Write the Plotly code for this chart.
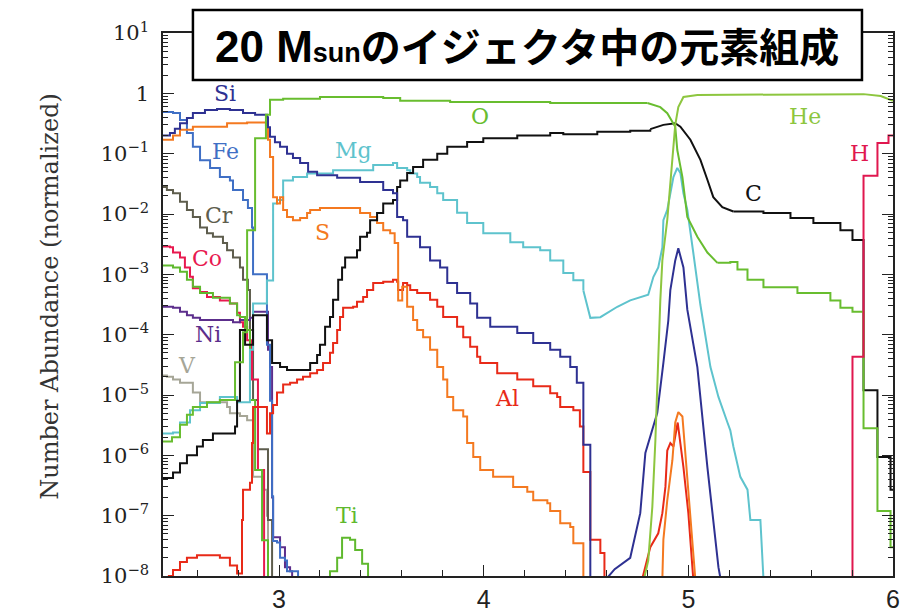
import plotly.graph_objects as go

# ---------------------------------------------------------------
# Ejecta composition of a 20 Msun model: normalized number
# abundance of each element versus mass coordinate.
# ---------------------------------------------------------------

# Hydrogen
h_x = [5.700, 5.802, 5.856, 5.924, 5.978, 6.0]
h_y = [1e-9, 4.3e-5, 0.043, 0.15, 0.20, 0.20]

# Helium
he_x = [4.780, 4.804, 4.824, 4.839, 4.863, 4.873, 4.897, 4.922, 4.936, 4.951, 4.976, 5.044, 5.856, 5.940, 5.988, 6.0]
he_y = [8e-9, 1.8e-8, 1.4e-7, 1.8e-6, 3.7e-4, 1.7e-3, 8e-3, 0.078, 0.30, 0.59, 0.87, 0.94, 0.97, 0.90, 0.77, 0.75]

# Carbon (inner zones / C-O transition / outer zones)
c_x = [2.433, 2.482, 2.516, 2.550, 2.599, 2.628, 2.677, 2.785, 2.795, 2.809, 2.834, 2.873, 2.941, 2.966,
       3.005, 3.039, 3.152, 3.186, 3.200, 3.225, 3.249, 3.264, 3.289, 3.308, 3.323, 3.381, 3.396, 3.430,
       3.445, 3.479, 3.509, 3.557, 3.577, 3.592, 3.626, 3.655, 3.704, 3.773, 3.822, 3.919, 3.998, 4.164,
       4.325, 4.389, 4.555, 4.716, 4.814]
c_y = [4.2e-7, 5.2e-7, 7.4e-7, 1.0e-6, 1.4e-6, 1.8e-6, 2.3e-6, 3.0e-6, 8e-6, 1.2e-4, 6.8e-5, 2.1e-4, 8.1e-5, 3.4e-5,
       2.9e-5, 2.6e-5, 3.4e-5, 4.6e-5, 6.8e-5, 1.35e-4, 1.96e-4, 3.8e-4, 8.1e-4, 1.3e-3, 1.9e-3, 2.5e-3, 4.2e-3, 4.9e-3,
       7.9e-3, 0.0104, 0.015, 0.017, 0.028, 0.036, 0.048, 0.060, 0.079, 0.10, 0.13, 0.156, 0.18, 0.20,
       0.22, 0.21, 0.23, 0.24, 0.255]
c_mid_x = [4.814, 4.878, 4.936, 4.961, 5.010, 5.059, 5.093, 5.122, 5.166, 5.220]
c_mid_y = [0.255, 0.30, 0.32, 0.28, 0.17, 0.079, 0.037, 0.019, 0.013, 0.011]
c_out_x = [5.220, 5.367, 5.499, 5.611, 5.743, 5.802, 5.856, 5.924, 5.988, 6.0]
c_out_y = [0.011, 0.0104, 8.6e-3, 7.1e-3, 5.4e-3, 3.7e-3, 1.2e-5, 9.4e-7, 2.7e-7, 2.7e-7]

# Oxygen
o_x = [2.433, 2.477, 2.516, 2.550, 2.579, 2.648, 2.711, 2.785, 2.824, 2.844, 2.883, 2.936, 2.956,
       3.020, 3.200, 3.509, 3.592, 3.836, 4.325, 4.800]
o_y = [1.7e-6, 2.0e-6, 3.2e-6, 4.7e-6, 6.3e-6, 7.6e-6, 8.3e-6, 3.5e-5, 1.1e-4, 5.4e-3, 0.18, 0.44, 0.78,
       0.81, 0.87, 0.84, 0.75, 0.72, 0.69, 0.69]
o_mid_x = [4.800, 4.863, 4.897, 4.922, 4.936, 4.946, 4.971, 4.995, 5.044, 5.093, 5.142]
o_mid_y = [0.69, 0.59, 0.47, 0.33, 0.28, 0.115, 0.041, 8.9e-3, 4.2e-3, 2.3e-3, 1.55e-3]
o_out_x = [5.142, 5.205, 5.240, 5.289, 5.367, 5.533, 5.694, 5.743, 5.802, 5.856, 5.924, 5.988, 6.0]
o_out_y = [1.55e-3, 1.6e-3, 1.2e-3, 8.1e-4, 6.1e-4, 4.9e-4, 3.7e-4, 2.8e-4, 2.4e-4, 2.8e-6, 1.2e-7, 3.0e-8, 3.0e-8]

# Magnesium
mg_x = [2.433, 2.482, 2.516, 2.565, 2.614, 2.711, 2.795, 2.858, 2.873, 2.941, 2.971, 2.990, 3.020, 3.068,
        3.137, 3.264, 3.347, 3.460, 3.557, 3.577, 3.626, 3.641, 3.675, 3.689, 3.738, 3.773, 3.802, 3.870,
        3.919, 3.998, 4.130, 4.193, 4.276, 4.325, 4.389, 4.438, 4.487]
mg_y = [2.3e-6, 2.4e-6, 3.5e-6, 5.6e-6, 7.4e-6, 9.3e-6, 7.6e-6, 5.6e-5, 3.3e-4, 7.9e-4, 0.015, 0.017, 0.036, 0.041,
        0.047, 0.053, 0.053, 0.065, 0.070, 0.058, 0.053, 0.047, 0.041, 0.033, 0.028, 0.022, 0.017, 0.0105,
        7.1e-3, 4.8e-3, 3.4e-3, 2.8e-3, 2.5e-3, 1.7e-3, 1.05e-3, 8.0e-4, 5.4e-4]
mg_out_x = [4.487, 4.521, 4.570, 4.653, 4.716, 4.765, 4.804, 4.829, 4.853, 4.873, 4.878, 4.897, 4.912, 4.927,
            4.946, 4.961, 4.976, 4.995, 5.024, 5.059, 5.108, 5.147, 5.191, 5.205, 5.220, 5.254, 5.289, 5.303,
            5.352, 5.367]
mg_out_y = [5.4e-4, 1.9e-4, 1.95e-4, 2.9e-4, 3.7e-4, 4.2e-4, 4.6e-4, 9e-4, 1.3e-3, 2.8e-3, 7.9e-3, 0.0117, 0.022, 0.041,
            0.058, 0.048, 0.022, 0.0117, 2.3e-3, 3.1e-4, 2.9e-5, 9.3e-6, 3.5e-6, 2.6e-6, 1.4e-6, 4.4e-7, 2.7e-7, 8.5e-8,
            8.5e-8, 9e-9]

# Aluminium
al_x = [2.457, 2.482, 2.516, 2.550, 2.599, 2.677, 2.711, 2.760, 2.795, 2.819, 2.824, 2.858, 2.868, 2.873,
        2.932, 2.941, 2.956, 2.971, 2.990, 3.020, 3.054, 3.088, 3.117, 3.152, 3.186, 3.215, 3.249, 3.264,
        3.284, 3.298, 3.313, 3.362, 3.381, 3.411, 3.430, 3.460, 3.509, 3.557, 3.577, 3.582, 3.606, 3.626,
        3.641, 3.675, 3.738, 3.773, 3.802, 3.870, 3.900, 3.934, 3.968, 3.983, 4.066, 4.164, 4.242, 4.325,
        4.359, 4.374, 4.438, 4.470, 4.487, 4.521, 4.570, 4.590]
al_y = [1.0e-8, 1.26e-8, 1.7e-8, 2.0e-8, 2.2e-8, 2.2e-8, 2.0e-8, 1.5e-8, 1.1e-8, 8.5e-8, 2.7e-7, 3.5e-7, 1.6e-6, 6.3e-6,
        6.3e-6, 2.3e-6, 5.0e-6, 6.8e-6, 1.1e-5, 1.5e-5, 1.6e-5, 1.8e-5, 2.0e-5, 2.3e-5, 2.6e-5, 3.4e-5, 5.0e-5, 7.3e-5,
        1.2e-4, 1.96e-4, 2.8e-4, 2.9e-4, 3.5e-4, 4.2e-4, 5.5e-4, 7.2e-4, 7.5e-4, 8.1e-4, 7.5e-4, 5.5e-4, 7.2e-4, 6.6e-4,
        5.5e-4, 4.9e-4, 3.8e-4, 2.9e-4, 1.96e-4, 1.35e-4, 9.1e-5, 6.3e-5, 4.3e-5, 3.4e-5, 2.3e-5, 1.8e-5, 1.4e-5, 1.07e-5,
        9.3e-6, 6.3e-6, 5.6e-6, 3.0e-6, 5.3e-7, 4.0e-8, 2.4e-8, 1e-9]
al_pk_x = [4.775, 4.814, 4.853, 4.873, 4.888, 4.897, 4.912, 4.927, 4.948, 4.976, 5.000, 5.024]
al_pk_y = [9e-9, 3.0e-8, 5.1e-8, 1.1e-7, 3.0e-7, 1.2e-6, 1.6e-6, 1.4e-6, 3.5e-6, 6.4e-7, 1.1e-7, 9e-9]

# Silicon
si_x = [2.433, 2.467, 2.491, 2.516, 2.550, 2.579, 2.638, 2.697, 2.760, 2.824, 2.883, 2.941, 2.946, 2.956,
        2.980, 3.005, 3.039, 3.068, 3.103, 3.142, 3.186, 3.284, 3.396, 3.509, 3.557, 3.577, 3.606, 3.626,
        3.689, 3.738, 3.787, 3.822, 3.870, 3.934, 3.968, 4.032, 4.164, 4.242, 4.325, 4.374, 4.423, 4.455,
        4.487, 4.521]
si_y = [0.20, 0.22, 0.26, 0.32, 0.39, 0.47, 0.53, 0.55, 0.53, 0.47, 0.44, 0.40, 0.275, 0.19,
        0.155, 0.13, 0.10, 0.085, 0.07, 0.05, 0.044, 0.04, 0.034, 0.025, 0.022, 8.9e-3, 7.9e-3, 4.2e-3,
        2.8e-3, 1.7e-3, 1.3e-3, 7.2e-4, 4.9e-4, 3.3e-4, 1.9e-4, 1.35e-4, 1.07e-4, 7.3e-5, 5.6e-5, 4.3e-5, 2.9e-5, 1.6e-5,
        1.5e-6, 1e-9]
si_pk_x = [4.600, 4.640, 4.716, 4.765, 4.790, 4.820, 4.848, 4.878, 4.902, 4.912, 4.936, 4.951, 4.976, 4.995,
           5.044, 5.093, 5.147, 5.160]
si_pk_y = [9e-9, 1.3e-8, 2.0e-8, 1.1e-7, 1.1e-6, 2.5e-6, 5.0e-6, 3.4e-5, 1.7e-4, 5.5e-4, 1.7e-3, 2.7e-3, 1.3e-3, 2.6e-4,
           2.9e-5, 6.4e-7, 1.4e-8, 8e-9]

# Sulphur
s_x = [2.433, 2.482, 2.516, 2.579, 2.746, 2.844, 2.936, 2.946, 2.956, 2.971, 2.990, 3.005, 3.020, 3.039,
       3.068, 3.103, 3.137, 3.152, 3.200, 3.333, 3.396, 3.445, 3.479, 3.509, 3.543, 3.565, 3.582, 3.602,
       3.626, 3.655, 3.675, 3.704, 3.738, 3.773, 3.802, 3.822, 3.851, 3.900, 3.919, 3.949, 3.983, 4.046,
       4.144, 4.213, 4.242, 4.311, 4.325, 4.374, 4.423, 4.438, 4.487]
s_y = [0.17, 0.20, 0.25, 0.28, 0.32, 0.33, 0.30, 0.17, 0.088, 0.019, 0.015, 0.019, 0.0117, 8.9e-3,
       7.9e-3, 8.6e-3, 0.0104, 0.0117, 0.0126, 0.0126, 0.0104, 8.9e-3, 7.1e-3, 5.4e-3, 4.8e-3, 3.3e-3, 3.7e-4, 6.2e-4,
       2.9e-4, 1.75e-4, 1.2e-4, 9.1e-5, 5.6e-5, 2.9e-5, 1.8e-5, 9.3e-6, 5.6e-6, 4.4e-6, 1.6e-6, 9.4e-7, 5.7e-7, 4.4e-7,
       3.0e-7, 2.5e-7, 1.8e-7, 1.6e-7, 1.2e-7, 7.5e-8, 6.5e-8, 3.5e-8, 1e-9]
s_pk_x = [4.873, 4.878, 4.897, 4.922, 4.936, 4.951, 4.971, 4.985, 5.010, 5.034]
s_pk_y = [9e-9, 4e-8, 1.8e-7, 8.3e-7, 3.5e-6, 5.2e-6, 4.4e-6, 1.2e-6, 1.1e-7, 9e-9]

# Titanium
ti_x = [2.433, 2.482, 2.516, 2.550, 2.579, 2.614, 2.677, 2.760, 2.795, 2.809, 2.834, 2.858, 2.883, 2.917,
        2.946, 3.249, 3.284, 3.308, 3.347, 3.372, 3.406, 3.435]
ti_y = [1.4e-3, 1.3e-3, 1.1e-3, 8.1e-4, 6.2e-4, 4.9e-4, 4.1e-4, 3.3e-4, 2.1e-4, 1.96e-4, 1.2e-4, 8.3e-6, 5.7e-7, 3.9e-8,
        1e-9, 1.2e-8, 2.0e-8, 4.3e-8, 4.0e-8, 2.7e-8, 1.6e-8, 1e-9]

# Vanadium
v_x = [2.433, 2.452, 2.482, 2.516, 2.579, 2.614, 2.746, 2.760, 2.809, 2.844, 2.873, 2.922, 2.941, 2.946]
v_y = [2.1e-5, 2.0e-5, 1.8e-5, 1.6e-5, 1.1e-5, 7.6e-6, 6.3e-6, 5.0e-6, 4.5e-6, 3.8e-6, 4.4e-7, 2.7e-7, 1.0e-7, 1e-9]

# Chromium
cr_x = [2.433, 2.452, 2.482, 2.516, 2.550, 2.579, 2.614, 2.648, 2.677, 2.726, 2.746, 2.775, 2.809, 2.824,
        2.848, 2.858, 2.873, 2.897, 2.946, 2.966]
cr_y = [0.028, 0.025, 0.022, 0.016, 0.0117, 8.9e-3, 6.0e-3, 4.8e-3, 4.2e-3, 3.3e-3, 2.5e-3, 1.9e-3, 1.3e-3, 8.1e-4,
        5.5e-4, 1.2e-4, 8.3e-6, 1.26e-6, 8.5e-8, 1e-9]

# Iron
fe_x = [2.433, 2.482, 2.516, 2.550, 2.579, 2.614, 2.663, 2.711, 2.760, 2.775, 2.824, 2.848, 2.868, 2.873,
        2.941, 2.956, 2.966, 2.971, 2.990, 3.005, 3.029, 3.039, 3.093]
fe_y = [0.49, 0.47, 0.36, 0.22, 0.13, 0.078, 0.058, 0.041, 0.036, 0.025, 0.017, 0.0126, 6.0e-3, 1.0e-3,
        6.8e-5, 8.0e-6, 2.1e-7, 3.8e-8, 3.6e-8, 2.0e-8, 1.8e-8, 1.2e-8, 1e-9]

# Cobalt
co_x = [2.433, 2.467, 2.482, 2.516, 2.540, 2.565, 2.579, 2.614, 2.648, 2.711, 2.760, 2.795, 2.809, 2.824,
        2.844, 2.868, 2.897, 2.927]
co_y = [2.9e-3, 2.8e-3, 2.3e-3, 1.9e-3, 1.3e-3, 9.1e-4, 5.9e-4, 5.1e-4, 4.2e-4, 3.7e-4, 3.3e-4, 2.3e-4, 1.6e-4, 1.35e-4,
        8.1e-5, 1.8e-5, 5.7e-7, 1e-9]

# Nickel
ni_x = [2.433, 2.482, 2.516, 2.550, 2.579, 2.614, 2.775, 2.809, 2.858, 2.873, 2.941, 2.946, 2.956, 2.966,
        2.971, 2.995, 3.005, 3.020, 3.029, 3.054, 3.064]
ni_y = [2.9e-4, 2.8e-4, 2.4e-4, 2.1e-4, 1.9e-4, 1.75e-4, 1.6e-4, 1.75e-4, 1.9e-4, 2.4e-4, 2.4e-4, 5.6e-5, 2.9e-5, 2.0e-7,
        4.4e-8, 4.4e-8, 3.0e-8, 3.0e-8, 1.4e-8, 1.2e-8, 1e-9]

# Axis ticks
x_tick_vals = [3, 4, 5, 6]
y_tick_vals = [1e-8, 1e-7, 1e-6, 1e-5, 1e-4, 1e-3, 1e-2, 1e-1, 1, 10]
y_tick_text = ["10<sup>\u22128</sup>", "10<sup>\u22127</sup>", "10<sup>\u22126</sup>", "10<sup>\u22125</sup>",
               "10<sup>\u22124</sup>", "10<sup>\u22123</sup>", "10<sup>\u22122</sup>", "10<sup>\u22121</sup>",
               "1", "10<sup>1</sup>"]

# Element labels: (name, mass coordinate, log10 abundance, colour)
labels = [
    ("Si", 2.736, 0.0, "#2e3192"),
    ("Fe", 2.736, -0.97, "#3f6fc5"),
    ("Cr", 2.707, -2.02, "#5e5d4d"),
    ("Co", 2.648, -2.73, "#e8194f"),
    ("Ni", 2.653, -4.0, "#5c2e8c"),
    ("V", 2.550, -4.51, "#a6a697"),
    ("Mg", 3.362, -0.94, "#5ec3cd"),
    ("S", 3.210, -2.30, "#f47920"),
    ("O", 3.983, -0.38, "#68bd2f"),
    ("Ti", 3.333, -7.0, "#5fb92e"),
    ("Al", 4.115, -5.05, "#e82a18"),
    ("C", 5.318, -1.66, "#111111"),
    ("He", 5.572, -0.39, "#8dc63f"),
    ("H", 5.836, -0.99, "#e0174f"),
]
col = {name: c for name, _, _, c in labels}

fig = go.Figure()


def profile(x, y, color, shape="hv"):
    fig.add_trace(go.Scatter(x=x, y=y, mode="lines", showlegend=False, hoverinfo="skip",
                             line=dict(color=color, width=2, shape=shape)))


profile(v_x, v_y, col["V"])
profile(cr_x, cr_y, col["Cr"])
profile(co_x, co_y, col["Co"])
profile(ni_x, ni_y, col["Ni"])
profile(ti_x, ti_y, col["Ti"])
profile(fe_x, fe_y, col["Fe"])
profile(mg_x, mg_y, col["Mg"])
profile(mg_out_x, mg_out_y, col["Mg"], "linear")
profile(al_x, al_y, col["Al"])
profile(al_pk_x, al_pk_y, col["Al"], "linear")
profile(s_x, s_y, col["S"])
profile(s_pk_x, s_pk_y, col["S"], "linear")
profile(c_x, c_y, col["C"])
profile(c_mid_x, c_mid_y, col["C"], "linear")
profile(c_out_x, c_out_y, col["C"])
profile(si_x, si_y, col["Si"])
profile(si_pk_x, si_pk_y, col["Si"], "linear")
profile(o_x, o_y, col["O"])
profile(o_mid_x, o_mid_y, col["O"], "linear")
profile(o_out_x, o_out_y, col["O"])
profile(he_x, he_y, col["He"], "linear")
profile(h_x, h_y, col["H"])

for name, lx, ly, c in labels:
    fig.add_annotation(x=lx, y=ly, xref="x", yref="y", text=name, showarrow=False,
                       font=dict(family="DejaVu Serif", size=22, color=c))

axis_common = dict(showline=True, linecolor="#222222", linewidth=1.5, mirror="ticks", automargin=False,
                   ticks="inside", tickcolor="#222222", tickwidth=1.2, showgrid=False, zeroline=False)

fig.update_xaxes(range=[2.433, 6.0], tickmode="array", tickvals=x_tick_vals, ticklen=11,
                 tickfont=dict(family="Liberation Sans", size=25, color="#222222"),
                 minor=dict(dtick=0.2, tick0=3, ticks="inside", ticklen=6, tickcolor="#222222"),
                 **axis_common)
fig.update_yaxes(type="log", range=[-8, 1], tickmode="array", tickvals=y_tick_vals, ticktext=y_tick_text,
                 ticklen=11, ticklabelstandoff=8,
                 tickfont=dict(family="DejaVu Serif", size=21, color="#222222"),
                 minor=dict(dtick="D1", ticks="inside", ticklen=5, tickcolor="#222222"),
                 **axis_common)

# y-axis caption
fig.add_annotation(x=-0.1548, y=0.516, xref="paper", yref="paper", text="Number Abundance (normalized)",
                   textangle=-90, showarrow=False, xanchor="center", yanchor="middle",
                   font=dict(family="DejaVu Serif", size=24, color="#333333"))

# boxed heading
fig.add_shape(type="rect", xref="paper", yref="paper", x0=0.041, x1=0.9575, y0=0.9134, y1=1.0424,
              line=dict(color="black", width=2.5), fillcolor="white", layer="above")
fig.add_annotation(x=0.4993, y=0.978, xref="paper", yref="paper", showarrow=False,
                   xanchor="center", yanchor="middle",
                   text=("<b><span style='font-family:Liberation Sans;font-size:44px'>20 M</span>"
                         "<span style='font-family:Liberation Sans;font-size:27px'>sun</span>"
                         "のイジェクタ中の元素組成</b>"),
                   font=dict(family="Noto Sans CJK JP", size=40, color="black"))

fig.update_layout(template="none", width=905, height=613, margin=dict(l=163, r=12, t=33, b=37),
                  paper_bgcolor="white", plot_bgcolor="white")

fig.write_html("out.html")
